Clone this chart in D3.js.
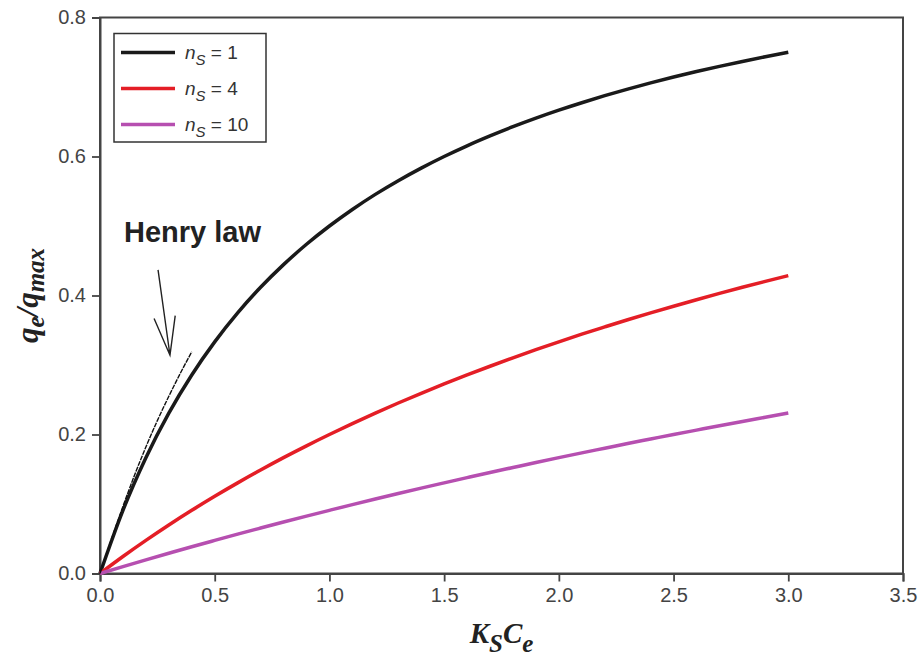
<!DOCTYPE html>
<html><head><meta charset="utf-8">
<script src="https://cdn.jsdelivr.net/npm/d3@7"></script>
<style>body{margin:0;background:#fff}</style>
</head><body>
<svg id="chart" width="920" height="661"></svg>
<script>
// Data
const xValues = [0,0.1,0.2,0.3,0.4,0.5,0.6,0.7,0.8,0.9,1.0,1.1,1.2,1.3,1.4,1.5,1.6,1.7,1.8,1.9,2.0,2.1,2.2,2.3,2.4,2.5,2.6,2.7,2.8,2.9,3.0];
const ns1 = [0,0.0909,0.1667,0.2308,0.2857,0.3333,0.3750,0.4118,0.4444,0.4737,0.5000,0.5238,0.5455,0.5652,0.5833,0.6000,0.6154,0.6296,0.6429,0.6552,0.6667,0.6774,0.6875,0.6970,0.7059,0.7143,0.7222,0.7297,0.7368,0.7436,0.7500];
const ns4 = [0,0.0244,0.0476,0.0698,0.0909,0.1111,0.1304,0.1489,0.1667,0.1837,0.2000,0.2157,0.2308,0.2453,0.2593,0.2727,0.2857,0.2982,0.3103,0.3220,0.3333,0.3443,0.3548,0.3651,0.3750,0.3846,0.3939,0.4030,0.4118,0.4203,0.4286];
const ns10 = [0,0.0099,0.0196,0.0291,0.0385,0.0476,0.0566,0.0654,0.0741,0.0826,0.0909,0.0991,0.1071,0.1150,0.1228,0.1304,0.1379,0.1453,0.1525,0.1597,0.1667,0.1736,0.1803,0.1870,0.1935,0.2000,0.2063,0.2126,0.2188,0.2248,0.2308];
const seriesNames = ["1","4","10"];
const seriesColors = ["#1a1a1a","#e41e26","#b64fb0"];
const henryX = [0,0.05,0.10,0.15,0.20,0.25,0.30,0.35,0.40];
const henryY = [0,0.0495,0.0965,0.141,0.182,0.220,0.255,0.288,0.319];
const arrowTail = [0.253, 0.437];
const arrowTip = [0.305, 0.314];
const xTicks = [0,0.5,1.0,1.5,2.0,2.5,3.0,3.5];
const yTicks = [0,0.2,0.4,0.6,0.8];

const svg = d3.select("#chart");
const m = {left:100, right:17, top:17.5, bottom:87.5};
const W = 920, H = 661;
const x = d3.scaleLinear().domain([0,3.5]).range([m.left, W-m.right]);
const y = d3.scaleLinear().domain([0,0.8]).range([H-m.bottom, m.top]);

const axisColor = "#444";
svg.append("rect").attr("x",x(0)).attr("y",y(0.8)).attr("width",x(3.5)-x(0)).attr("height",y(0)-y(0.8))
  .attr("fill","none").attr("stroke",axisColor).attr("stroke-width",2);

const xAxis = svg.append("g").attr("transform",`translate(0,${y(0)})`)
  .call(d3.axisBottom(x).tickValues(xTicks).tickFormat(d3.format(".1f")).tickSize(8).tickPadding(6));
const yAxis = svg.append("g").attr("transform",`translate(${x(0)},0)`)
  .call(d3.axisLeft(y).tickValues(yTicks).tickFormat(d3.format(".1f")).tickSize(8).tickPadding(6));
[xAxis,yAxis].forEach(g=>{
  g.select(".domain").attr("stroke",axisColor).attr("stroke-width",2);
  g.selectAll(".tick line").attr("stroke",axisColor).attr("stroke-width",1.8);
  g.selectAll(".tick text").attr("fill","#444").style("font-family","'Liberation Sans', Arial, sans-serif").style("font-size","20px");
});

// curves
const series = [ns1, ns4, ns10];
const line = d3.line().x(d=>x(d[0])).y(d=>y(d[1])).curve(d3.curveMonotoneX);
series.forEach((s,i)=>{
  svg.append("path").datum(xValues.map((xv,j)=>[xv,s[j]]))
    .attr("d",line).attr("fill","none").attr("stroke",seriesColors[i]).attr("stroke-width",3.5);
});

// Henry law line
svg.append("path").datum(henryX.map((xv,j)=>[xv,henryY[j]]))
  .attr("d",line).attr("fill","none").attr("stroke","#111").attr("stroke-width",1.4)
  .attr("stroke-dasharray","5,1");

// arrow
const tx = x(arrowTail[0]), ty = y(arrowTail[1]), px = x(arrowTip[0]), py = y(arrowTip[1]);
const ang = Math.atan2(py-ty, px-tx);
const wl = 40, wa = 0.27;
svg.append("path")
  .attr("d",`M${tx},${ty}L${px},${py}M${px-wl*Math.cos(ang-wa)},${py-wl*Math.sin(ang-wa)}L${px},${py}L${px-wl*Math.cos(ang+wa)},${py-wl*Math.sin(ang+wa)}`)
  .attr("fill","none").attr("stroke","#222").attr("stroke-width",1.4);

svg.append("text").attr("x",124).attr("y",242)
  .style("font-family","'Liberation Sans', Arial, sans-serif").style("font-weight","bold").style("font-size","29px")
  .attr("fill","#222").text("Henry law");

// legend
const lg = svg.append("g");
lg.append("rect").attr("x",114).attr("y",33.5).attr("width",152).attr("height",108.5)
  .attr("fill","#fff").attr("stroke","#333").attr("stroke-width",1.5);
seriesNames.forEach((n,i)=>{
  const ly = 52.5 + i*36;
  lg.append("line").attr("x1",121).attr("x2",175).attr("y1",ly).attr("y2",ly)
    .attr("stroke",seriesColors[i]).attr("stroke-width",3.5);
  const t = lg.append("text").attr("x",185).attr("y",ly+6)
    .style("font-family","'Liberation Sans', Arial, sans-serif").style("font-size","19px").attr("fill","#333");
  t.append("tspan").style("font-style","italic").text("n");
  t.append("tspan").style("font-style","italic").style("font-size","15px").attr("dy",6).text("S");
  t.append("tspan").attr("dy",-6).text(" = " + n);
});

// axis titles
const xt = svg.append("text").attr("x",(x(0)+x(3.5))/2).attr("y",643).attr("text-anchor","middle")
  .style("font-family","'Liberation Serif', 'Times New Roman', serif").style("font-style","italic").style("font-weight","bold")
  .style("font-size","29px").attr("fill","#222");
xt.append("tspan").text("K");
xt.append("tspan").attr("dy",9).style("font-size","25px").text("S");
xt.append("tspan").attr("dy",-9).text("C");
xt.append("tspan").attr("dy",9).style("font-size","25px").text("e");

const yt = svg.append("text").attr("transform",`translate(38,${(y(0)+y(0.8))/2}) rotate(-90)`).attr("text-anchor","middle")
  .style("font-family","'Liberation Serif', 'Times New Roman', serif").style("font-style","italic").style("font-weight","bold")
  .style("font-size","31px").attr("fill","#222");
yt.append("tspan").text("q");
yt.append("tspan").attr("dy",6).style("font-size","25px").text("e");
yt.append("tspan").attr("dy",-6).text("/q");
yt.append("tspan").attr("dy",6).style("font-size","25px").text("max");
</script>
</body></html>
